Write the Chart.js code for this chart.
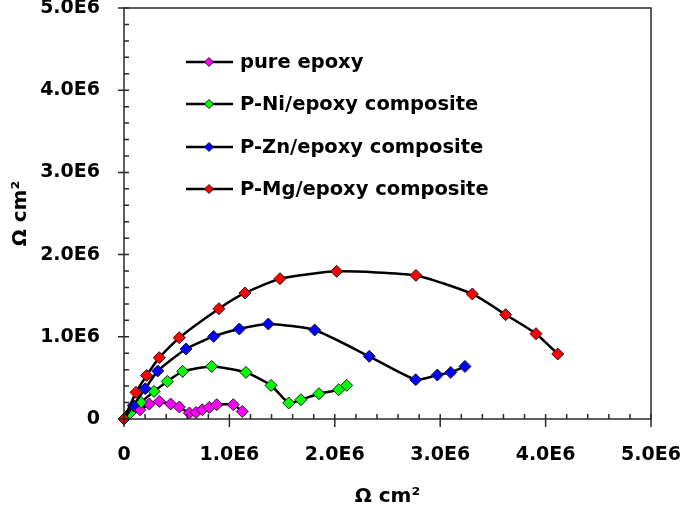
<!DOCTYPE html>
<html>
<head>
<meta charset="utf-8">
<script src="https://cdn.jsdelivr.net/npm/chart.js@4/dist/chart.umd.min.js"></script>
<style>
  html, body { margin: 0; padding: 0; background: #ffffff; }
  #wrap { width: 685px; height: 509px; position: relative; }
</style>
</head>
<body>
<div id="wrap"><canvas id="nyquistChart"></canvas></div>
<script>
const seriesLabels = ["pure epoxy", "P-Ni/epoxy composite", "P-Zn/epoxy composite", "P-Mg/epoxy composite"];
const seriesColors = ["#ff00ff", "#00ff00", "#0000ff", "#ff0000"];

const epoxyX = [0, 0.152e6, 0.24e6, 0.335e6, 0.443e6, 0.525e6, 0.62e6, 0.683e6, 0.743e6, 0.809e6, 0.88e6, 1.037e6, 1.122e6];
const epoxyY = [0, 0.113e6, 0.182e6, 0.214e6, 0.182e6, 0.146e6, 0.073e6, 0.08e6, 0.113e6, 0.141e6, 0.174e6, 0.174e6, 0.092e6];

const niX = [0, 0.057e6, 0.161e6, 0.285e6, 0.411e6, 0.557e6, 0.832e6, 1.157e6, 1.395e6, 1.563e6, 1.679e6, 1.85e6, 2.037e6, 2.113e6];
const niY = [0, 0.073e6, 0.202e6, 0.336e6, 0.457e6, 0.579e6, 0.64e6, 0.567e6, 0.409e6, 0.195e6, 0.235e6, 0.308e6, 0.356e6, 0.409e6];

const znX = [0, 0.088e6, 0.202e6, 0.32e6, 0.588e6, 0.851e6, 1.094e6, 1.369e6, 1.809e6, 2.327e6, 2.768e6, 2.973e6, 3.1e6, 3.235e6];
const znY = [0, 0.165e6, 0.369e6, 0.584e6, 0.852e6, 1.005e6, 1.095e6, 1.156e6, 1.083e6, 0.762e6, 0.478e6, 0.535e6, 0.567e6, 0.64e6];

const mgX = [0, 0.114e6, 0.215e6, 0.335e6, 0.525e6, 0.901e6, 1.148e6, 1.48e6, 2.018e6, 2.77e6, 3.305e6, 3.621e6, 3.909e6, 4.115e6];
const mgY = [0, 0.324e6, 0.53e6, 0.746e6, 0.989e6, 1.342e6, 1.533e6, 1.707e6, 1.796e6, 1.747e6, 1.521e6, 1.269e6, 1.038e6, 0.791e6];

const axisMin = 0;
const axisMax = 5e6;
const majorStep = 1e6;
const minorStep = 0.2e6;

const fontFamily = "'DejaVu Sans', 'Liberation Sans', Arial, sans-serif";
const axisColor = "#2a2a2a";

function toPoints(xs, ys) {
  return xs.map((x, i) => ({ x, y: ys[i] }));
}

function tickLabel(value) {
  if (value === 0) return "0";
  return (value / 1e6).toFixed(1) + "E6";
}

const seriesData = [toPoints(epoxyX, epoxyY), toPoints(niX, niY), toPoints(znX, znY), toPoints(mgX, mgY)];

const datasets = seriesData.map((data, i) => ({
  label: seriesLabels[i],
  data,
  showLine: true,
  borderColor: "#000000",
  borderWidth: 2.5,
  tension: 0.18,
  pointStyle: "rectRot",
  pointRadius: 6,
  pointBackgroundColor: seriesColors[i],
  pointBorderColor: "#1a1a1a",
  pointBorderWidth: 1,
  clip: false,
  order: seriesData.length - 1 - i
}));

const frameAndTicks = {
  id: "frameAndTicks",
  afterDraw(chart) {
    const { ctx, chartArea } = chart;
    const xs = chart.scales.x;
    const ys = chart.scales.y;
    ctx.save();
    ctx.strokeStyle = axisColor;
    ctx.lineWidth = 1.5;
    ctx.beginPath();
    ctx.rect(chartArea.left, chartArea.top, chartArea.right - chartArea.left, chartArea.bottom - chartArea.top);
    ctx.stroke();

    ctx.beginPath();
    for (let v = axisMin; v <= axisMax + 1; v += minorStep) {
      const isMajor = Math.abs(v / majorStep - Math.round(v / majorStep)) < 1e-6;
      const px = xs.getPixelForValue(v);
      const py = ys.getPixelForValue(v);
      if (isMajor) {
        ctx.moveTo(px, chartArea.bottom + 8);
        ctx.lineTo(px, chartArea.bottom - 5);
        ctx.moveTo(chartArea.left - 6, py);
        ctx.lineTo(chartArea.left + 5, py);
      } else {
        ctx.moveTo(px, chartArea.bottom);
        ctx.lineTo(px, chartArea.bottom - 5);
        ctx.moveTo(chartArea.left, py);
        ctx.lineTo(chartArea.left + 5, py);
      }
    }
    ctx.stroke();
    ctx.restore();
  }
};

const insideLegend = {
  id: "insideLegend",
  afterDraw(chart) {
    const { ctx } = chart;
    const rows = [62, 104, 147, 189];
    ctx.save();
    ctx.font = "bold 19.5px " + fontFamily;
    ctx.textBaseline = "middle";
    ctx.textAlign = "left";
    rows.forEach((y, i) => {
      ctx.strokeStyle = "#000000";
      ctx.lineWidth = 2.5;
      ctx.beginPath();
      ctx.moveTo(186, y);
      ctx.lineTo(233, y);
      ctx.stroke();
      ctx.fillStyle = seriesColors[i];
      ctx.strokeStyle = "#1a1a1a";
      ctx.lineWidth = 1;
      ctx.beginPath();
      ctx.moveTo(209, y - 4.5);
      ctx.lineTo(213.5, y);
      ctx.lineTo(209, y + 4.5);
      ctx.lineTo(204.5, y);
      ctx.closePath();
      ctx.fill();
      ctx.stroke();
      ctx.fillStyle = "#000000";
      ctx.fillText(seriesLabels[i], 240, y + 1);
    });
    ctx.restore();
  }
};

new Chart(document.getElementById("nyquistChart"), {
  type: "scatter",
  data: { datasets },
  options: {
    responsive: true,
    maintainAspectRatio: false,
    animation: false,
    layout: {
      padding: { left: 0, right: 34, top: 8, bottom: 0 }
    },
    plugins: {
      legend: { display: false },
      tooltip: { enabled: false }
    },
    scales: {
      x: {
        type: "linear",
        min: axisMin,
        max: axisMax,
        grid: { display: false, drawTicks: false },
        border: { display: false },
        ticks: {
          stepSize: majorStep,
          color: "#000000",
          padding: 27,
          maxRotation: 0,
          font: { family: fontFamily, size: 19, weight: "bold", lineHeight: 1 },
          callback: (value) => tickLabel(value)
        },
        title: {
          display: true,
          text: "Ω cm²",
          color: "#000000",
          padding: { top: 0, bottom: 0 },
          font: { family: fontFamily, size: 20, weight: "bold" }
        },
        afterFit(scale) {
          scale.height = 90;
          scale.paddingLeft = 0;
          scale.paddingRight = 0;
        }
      },
      y: {
        type: "linear",
        min: axisMin,
        max: axisMax,
        grid: { display: false, drawTicks: false },
        border: { display: false },
        ticks: {
          stepSize: majorStep,
          color: "#000000",
          padding: 24,
          font: { family: fontFamily, size: 19, weight: "bold", lineHeight: 1 },
          callback: (value) => tickLabel(value)
        },
        title: {
          display: true,
          text: "Ω cm²",
          color: "#000000",
          padding: { top: 9, bottom: 0 },
          font: { family: fontFamily, size: 20, weight: "bold" }
        },
        afterFit(scale) {
          scale.width = 124;
          scale.paddingTop = 0;
          scale.paddingBottom = 0;
        }
      }
    }
  },
  plugins: [frameAndTicks, insideLegend]
});
</script>
</body>
</html>
